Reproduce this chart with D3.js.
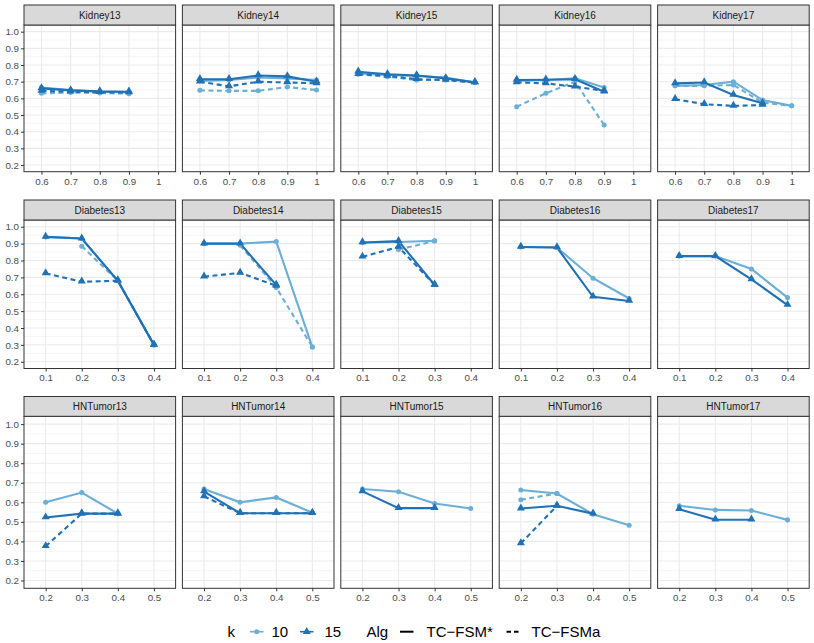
<!DOCTYPE html>
<html><head><meta charset="utf-8">
<script src="https://cdn.jsdelivr.net/npm/d3@7"></script>
<style>body{margin:0;background:#fff} text{font-family:"Liberation Sans",Arial,Helvetica,sans-serif}</style>
</head><body><svg id="c" width="814" height="643"></svg>
<script>
// ---------- data ----------
const datasets = ["Kidney13","Kidney14","Kidney15","Kidney16","Kidney17",
  "Diabetes13","Diabetes14","Diabetes15","Diabetes16","Diabetes17",
  "HNTumor13","HNTumor14","HNTumor15","HNTumor16","HNTumor17"];
const xLevels = [
  ["0.6","0.7","0.8","0.9","1"],
  ["0.1","0.2","0.3","0.4"],
  ["0.2","0.3","0.4","0.5"]
];
const yTicks = [0.2,0.3,0.4,0.5,0.6,0.7,0.8,0.9,1.0];
const yMinor = [0.25,0.35,0.45,0.55,0.65,0.75,0.85,0.95];
const kLevels = ["10","15"];
const algLevels = ["TC\u2212FSM*","TC\u2212FSMa"];
const N = null;
// k = 10, Alg = TC-FSM*
const k10Star = [
  [0.665,0.65,0.64,0.635,N],[0.705,0.71,0.725,0.72,0.71],[0.75,0.74,0.735,0.725,0.695],[0.705,0.71,0.72,0.665,N],[0.675,0.68,0.70,0.59,0.555],
  [0.94,0.93,0.68,0.30],[0.90,0.90,0.912,0.287],[0.905,0.91,0.917,N],[0.88,0.877,0.695,0.575],[0.826,0.826,0.75,0.58],
  [0.60,0.65,0.542,N],[0.668,0.60,0.625,0.547],[0.668,0.654,0.594,0.568],[0.663,0.645,0.539,0.482],[0.582,0.561,0.558,0.51]
];
// k = 15, Alg = TC-FSM*
const k15Star = [
  [0.66,0.648,0.642,0.64,N],[0.715,0.715,0.737,0.732,0.70],[0.76,0.745,0.737,0.72,0.696],[0.71,0.712,0.715,0.64,N],[0.69,0.695,0.62,0.57,N],
  [0.94,0.93,0.68,0.30],[0.90,0.90,0.655,N],[0.907,0.915,0.655,N],[0.88,0.877,0.585,0.56],[0.826,0.826,0.688,0.536],
  [0.522,0.542,0.542,N],[0.655,0.544,0.544,0.544],[0.656,0.57,0.57,N],[0.568,0.582,0.542,N],[0.565,0.511,0.511,N]
];
// k = 10, Alg = TC-FSMa
const k10A = [
  [0.63,0.635,0.632,0.628,N],[0.648,0.645,0.645,0.668,0.65],[0.745,0.73,0.71,0.71,0.695],[0.55,0.63,0.70,0.44,N],[0.675,0.675,0.68,0.575,0.555],
  [N,0.885,0.68,0.30],[N,0.89,0.64,0.287],[N,0.865,0.915,N],[N,N,N,N],[N,N,N,N],
  [N,N,N,N],[N,N,N,N],[N,N,N,N],[0.613,0.645,N,N],[N,N,N,N]
];
// k = 15, Alg = TC-FSMa
const k15A = [
  [0.645,0.64,0.637,0.635,N],[0.70,0.672,0.70,0.695,0.69],[0.745,0.735,0.715,0.71,0.695],[0.696,0.69,0.67,0.645,N],[0.595,0.565,0.555,0.56,N],
  [0.724,0.674,0.68,0.30],[0.704,0.727,0.65,N],[0.822,0.88,0.655,N],[N,N,N,N],[N,N,N,N],
  [0.375,0.542,0.542,N],[0.63,0.544,0.544,0.544],[N,N,N,N],[0.39,0.582,N,N],[N,N,N,N]
];
const series = [
  {k:"10", alg:0, vals:k10Star},
  {k:"10", alg:1, vals:k10A},
  {k:"15", alg:0, vals:k15Star},
  {k:"15", alg:1, vals:k15A}
];

// ---------- styles / layout ----------
const colK = d3.scaleOrdinal().domain(kLevels).range(["#6BAED6","#2171B5"]);
const dashAlg = d3.scaleOrdinal().domain([0,1]).range([null,"5,3.5"]);
const rows = [
  {stripTop:5, top:25, bottom:171.7},
  {stripTop:200, top:220, bottom:368.5},
  {stripTop:396.5, top:416.3, bottom:588.3}
];
const colLeft = i => 24 + i*158.4, panelW = 151.6;

const svg = d3.select("#c");
const grid = "#EBEBEB", border = "#333333";

datasets.forEach((name, idx) => {
  const r = Math.floor(idx/5), c = idx%5;
  const R = rows[r];
  const x0 = colLeft(c);
  const levels = xLevels[r];
  const x = d3.scalePoint().domain(levels).range([x0, x0+panelW]).padding(0.6);
  const y = d3.scaleLinear().domain([0.16,1.04]).range([R.bottom, R.top]);
  const g = svg.append("g");
  g.append("rect").attr("x",x0).attr("y",R.top).attr("width",panelW).attr("height",R.bottom-R.top).attr("fill","#fff");
  g.selectAll(".mn").data(yMinor).join("line")
    .attr("x1",x0).attr("x2",x0+panelW).attr("y1",d=>y(d)).attr("y2",d=>y(d))
    .attr("stroke",grid).attr("stroke-width",0.55);
  g.selectAll(".mj").data(yTicks).join("line")
    .attr("x1",x0).attr("x2",x0+panelW).attr("y1",d=>y(d)).attr("y2",d=>y(d))
    .attr("stroke",grid).attr("stroke-width",1.1);
  g.selectAll(".vx").data(levels).join("line")
    .attr("x1",d=>x(d)).attr("x2",d=>x(d)).attr("y1",R.top).attr("y2",R.bottom)
    .attr("stroke",grid).attr("stroke-width",1.1);
  series.forEach(s => {
    const vals = s.vals[idx];
    const pts = levels.map((l,i)=>({l, v: vals[i] === undefined ? null : vals[i]}));
    const line = d3.line().defined(d=>d.v!=null).x(d=>x(d.l)).y(d=>y(d.v));
    g.append("path").datum(pts).attr("d",line).attr("fill","none")
      .attr("stroke",colK(s.k)).attr("stroke-width",2.1)
      .attr("stroke-dasharray",dashAlg(s.alg));
  });
  series.forEach(s => {
    const vals = s.vals[idx];
    const pts = levels.map((l,i)=>({l, v: vals[i] === undefined ? null : vals[i]})).filter(d=>d.v!=null);
    const sym = d3.symbol().type(s.k==="10"?d3.symbolCircle:d3.symbolTriangle).size(s.k==="10"?20:28);
    g.selectAll(null).data(pts).join("path")
      .attr("d",sym).attr("transform",d=>`translate(${x(d.l)},${y(d.v)+(s.k==="15"?-0.5:0)})`)
      .attr("fill",colK(s.k));
  });
  g.append("rect").attr("x",x0).attr("y",R.top).attr("width",panelW).attr("height",R.bottom-R.top)
    .attr("fill","none").attr("stroke",border).attr("stroke-width",1);
  g.append("rect").attr("x",x0).attr("y",R.stripTop).attr("width",panelW).attr("height",R.top-R.stripTop)
    .attr("fill","#D9D9D9").attr("stroke",border).attr("stroke-width",1);
  g.append("text").attr("x",x0+panelW/2).attr("y",(R.stripTop+R.top)/2+3.6)
    .attr("text-anchor","middle").attr("font-size",10).attr("fill","#1A1A1A").text(name);
  const xa = g.append("g").attr("transform",`translate(0,${R.bottom})`)
    .call(d3.axisBottom(x).tickSize(3).tickPadding(3));
  xa.select(".domain").remove();
  xa.selectAll("line").attr("stroke",border);
  xa.selectAll("text").attr("font-size",9.8).attr("fill","#4D4D4D").attr("font-family","Liberation Sans, Arial, sans-serif");
  if (c===0) {
    const ya = g.append("g").attr("transform",`translate(${x0},0)`)
      .call(d3.axisLeft(y).tickValues(yTicks).tickFormat(d3.format(".1f")).tickSize(3).tickPadding(2));
    ya.select(".domain").remove();
    ya.selectAll("line").attr("stroke",border);
    ya.selectAll("text").attr("font-size",9.8).attr("fill","#4D4D4D").attr("font-family","Liberation Sans, Arial, sans-serif");
  }
});

// ---------- legend ----------
const L = svg.append("g");
const ly = 631.7, fs = 15;
L.append("text").attr("x",227.5).attr("y",ly+5.3).attr("font-size",fs).text("k");
const kKeys = [{k:"10",x:250,tx:271.5},{k:"15",x:300,tx:324.5}];
kKeys.forEach(d=>{
  L.append("line").attr("x1",d.x).attr("x2",d.x+13.5).attr("y1",ly).attr("y2",ly)
    .attr("stroke",colK(d.k)).attr("stroke-width",1.6);
  L.append("path").attr("d",d3.symbol().type(d.k==="10"?d3.symbolCircle:d3.symbolTriangle).size(d.k==="10"?20:28))
    .attr("transform",`translate(${d.x+6.75},${ly})`).attr("fill",colK(d.k));
  L.append("text").attr("x",d.tx).attr("y",ly+5.3).attr("font-size",fs).text(d.k);
});
L.append("text").attr("x",366.5).attr("y",ly+5.3).attr("font-size",fs).text("Alg");
const aKeys = [{a:0,x:400,tx:426.5},{a:1,x:506.5,tx:531.5}];
aKeys.forEach(d=>{
  L.append("line").attr("x1",d.x).attr("x2",d.x+(d.a===0?13.5:15)).attr("y1",ly).attr("y2",ly)
    .attr("stroke","#000").attr("stroke-width",2)
    .attr("stroke-dasharray",d.a===0?null:"4.5,3");
  L.append("text").attr("x",d.tx).attr("y",ly+5.3).attr("font-size",fs).text(algLevels[d.a]);
});
</script></body></html>
